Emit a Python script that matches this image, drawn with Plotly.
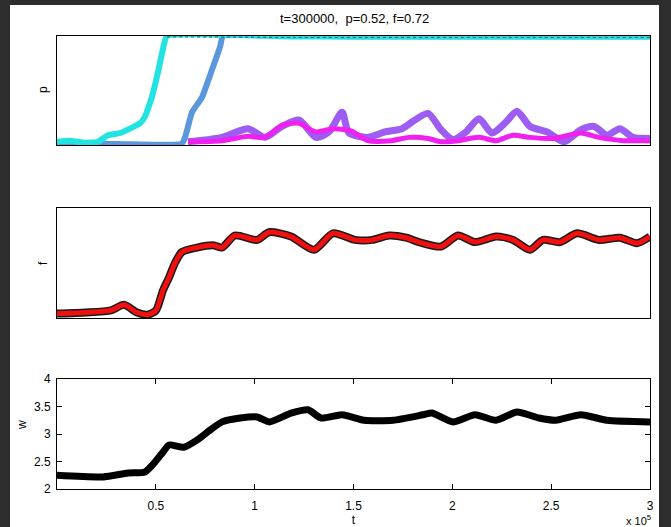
import plotly.graph_objects as go

W, H = 671, 527

# ---------- data ----------
# panel 1: p
t_cyan = [0, 6600, 14200, 20700, 25800, 31900, 37900, 42000, 44500, 48000, 51100, 53600, 55600, 120000, 200000, 300000]
p_cyan = [0.03, 0.04, 0.02, 0.03, 0.09, 0.11, 0.16, 0.20, 0.26, 0.44, 0.67, 0.88, 1.0, 0.995, 0.995, 0.995]

t_blue = [0, 30000, 63000, 64800, 68300, 73400, 78400, 82500, 84000, 150000, 300000]
p_blue = [0.01, 0.01, 0.01, 0.07, 0.30, 0.44, 0.69, 0.90, 1.0, 0.995, 0.995]

t_purple = [66300, 83500, 96600, 105200, 113800, 122400, 131000, 137600, 144200, 147700, 157300,
            165900, 174500, 181100, 187700, 194300, 200300, 206900, 213500, 220100, 226600, 232700,
            239300, 247900, 256500, 265100, 271700, 278200, 284800, 291400, 300000]
p_purple = [0.03, 0.07, 0.15, 0.07, 0.17, 0.23, 0.07, 0.12, 0.30, 0.11, 0.07,
            0.12, 0.15, 0.23, 0.29, 0.14, 0.05, 0.12, 0.24, 0.11, 0.20, 0.31,
            0.17, 0.12, 0.03, 0.14, 0.17, 0.09, 0.15, 0.07, 0.06]

t_magenta = [66300, 83500, 96600, 105200, 113800, 122400, 131000, 139600, 148700, 157300, 169200,
             178100, 187700, 194300, 203000, 213500, 222100, 230700, 239300, 251000, 265100,
             274200, 286500, 300000]
p_magenta = [0.03, 0.04, 0.08, 0.07, 0.18, 0.20, 0.12, 0.15, 0.13, 0.04, 0.04,
             0.07, 0.06, 0.03, 0.04, 0.07, 0.04, 0.09, 0.07, 0.06, 0.11,
             0.07, 0.04, 0.04]

# panel 2: f
t_f = [0, 14700, 27300, 33900, 40500, 46000, 50100, 53600, 56700, 59700, 63200, 70800, 79400, 83500,
       90000, 101200, 107300, 118400, 130000, 139600, 150800, 159400, 168000, 176600, 183100, 194300,
       202900, 211500, 222100, 230700, 239300, 245900, 254500, 263100, 274200, 284800, 293400, 300000]
f_val = [0.04, 0.05, 0.07, 0.12, 0.05, 0.03, 0.07, 0.25, 0.37, 0.50, 0.60, 0.64, 0.66, 0.64,
         0.75, 0.71, 0.78, 0.74, 0.62, 0.77, 0.71, 0.71, 0.75, 0.73, 0.69, 0.65,
         0.75, 0.69, 0.74, 0.71, 0.62, 0.71, 0.69, 0.77, 0.71, 0.73, 0.68, 0.74]

# panel 3: w
t_w = [0, 23300, 35900, 44500, 49100, 53600, 56700, 64200, 70800, 77400, 83500, 92600, 101200, 107300,
       118400, 127000, 133600, 144200, 155300, 170000, 185200, 189700, 200300, 211500, 222100, 232700,
       243800, 252400, 265100, 278200, 300000]
w_val = [2.25, 2.22, 2.29, 2.31, 2.47, 2.67, 2.80, 2.76, 2.89, 3.07, 3.22, 3.29, 3.31, 3.22,
         3.38, 3.44, 3.29, 3.35, 3.25, 3.25, 3.35, 3.38, 3.22, 3.35, 3.25, 3.40,
         3.29, 3.25, 3.35, 3.25, 3.22]

x_tickvals = [50000, 100000, 150000, 200000, 250000, 300000]
x_ticktext = ["0.5", "1", "1.5", "2", "2.5", "3"]
w_tickvals = [2, 2.5, 3, 3.5, 4]
w_ticktext = ["2", "2.5", "3", "3.5", "4"]

title_text = "t=300000,  p=0.52, f=0.72"

# ---------- figure ----------
FONT = "Liberation Sans, Arial, sans-serif"
fig = go.Figure()

def add(x, y, color, width, ax, smooth=0.7, dash="solid"):
    fig.add_trace(go.Scatter(x=x, y=y, mode="lines",
                             line=dict(color=color, width=width, shape="spline", smoothing=smooth, dash=dash),
                             xaxis="x" + ax, yaxis="y" + ax, showlegend=False, hoverinfo="skip"))

add(t_blue, p_blue, "#5b97dd", 6, "", 0.4)
add(t_cyan, p_cyan, "#22e2e2", 6, "", 0.4)
add(t_cyan[12:], [v - 0.008 for v in p_cyan[12:]], "#1d5d5d", 1, "", 0.4, "dot")
add(t_purple, p_purple, "#9d5cf2", 7, "", 0.7)
add(t_magenta, p_magenta, "#f020ee", 5, "", 0.7)

add(t_f, f_val, "#1a1a1a", 8, "2", 0.7)
add(t_f, f_val, "#f01010", 5, "2", 0.7)

add(t_w, w_val, "#000000", 7, "3", 0.6)

xl, xr = 57 / W, 650 / W
def ydom(top, bot):
    return [1 - bot / H, 1 - top / H]

box = dict(showline=True, linecolor="black", linewidth=1, mirror=True, showgrid=False,
           zeroline=False, automargin=False)
noticks = dict(showticklabels=False, ticks="")

fig.update_layout(
    width=W, height=H,
    margin=dict(l=0, r=0, t=0, b=0),
    paper_bgcolor="#2d2d2d",
    plot_bgcolor="white",
    font=dict(family=FONT, size=12, color="black"),
    xaxis=dict(domain=[xl, xr], range=[0, 300000], anchor="y", **box, **noticks),
    yaxis=dict(domain=ydom(36, 145), range=[0, 1], anchor="x", **box, **noticks),
    xaxis2=dict(domain=[xl, xr], range=[0, 300000], anchor="y2", **box, **noticks),
    yaxis2=dict(domain=ydom(208, 318), range=[0, 1], anchor="x2", **box, **noticks),
    xaxis3=dict(domain=[xl, xr], range=[0, 300000], anchor="y3",
                showline=True, linecolor="black", linewidth=1, mirror="ticks",
                showgrid=False, zeroline=False, ticks="inside", ticklen=5, tickcolor="black",
                tickvals=x_tickvals, ticktext=x_ticktext, tickfont=dict(size=12),
                ticklabelstandoff=6, automargin=False,
                title=dict(text="t", standoff=0, font=dict(size=12))),
    yaxis3=dict(domain=ydom(379, 489), range=[2, 4], anchor="x3",
                showline=True, linecolor="black", linewidth=1, mirror="ticks",
                showgrid=False, zeroline=False, ticks="inside", ticklen=5, tickcolor="black",
                tickvals=w_tickvals, ticktext=w_ticktext, tickfont=dict(size=12),
                ticklabelstandoff=3, automargin=False),
    shapes=[dict(type="rect", xref="paper", yref="paper", x0=10 / W, x1=659 / W,
                 y0=-0.02, y1=1 - 5 / H, fillcolor="white", line=dict(width=0), layer="below")],
)

def ann(text, x, y, size=12, yanchor="middle", **kw):
    kw.setdefault("xanchor", "center")
    fig.add_annotation(text=text, xref="paper", yref="paper", x=x / W, y=1 - y / H,
                       yanchor=yanchor, showarrow=False, borderpad=0,
                       font=dict(family=FONT, size=size, color="black"), **kw)

ann(title_text, 354, 19, size=13)
ann("p", 43, 90, textangle=-90)
ann("f", 43, 263, textangle=-90)
ann("w", 22, 425, textangle=-90)
ann("x 10<sup>5</sup>", 652, 520, size=11, yanchor="middle", xanchor="right")

fig.write_html("out.html")
